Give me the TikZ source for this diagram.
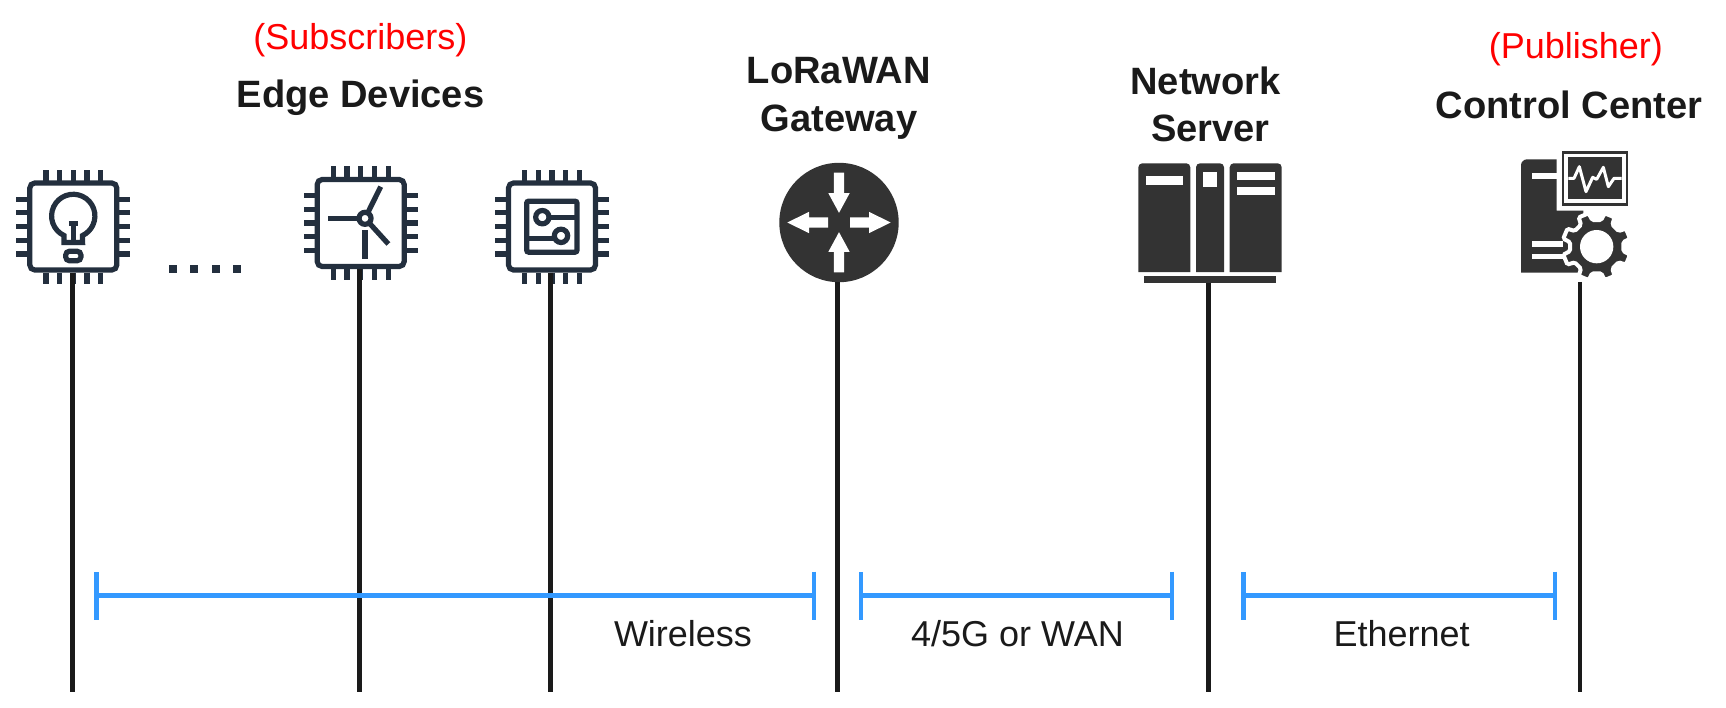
\documentclass[tikz,border=0pt]{standalone}
\usepackage{fontspec}
\setmainfont{Liberation Sans}
\usetikzlibrary{arrows.meta}
\definecolor{chipcolor}{HTML}{232F3E}
\definecolor{darkcolor}{HTML}{333333}
\definecolor{wirecolor}{HTML}{1A1A1A}
\definecolor{spancolor}{HTML}{3399FF}
\tikzstyle{chip}=[draw=chipcolor, line width=5.2pt, rounded corners=5pt, minimum size=87pt, inner sep=0pt]
\tikzstyle{chippin}=[draw=chipcolor, line width=5.2pt]
\tikzstyle{icon}=[draw=chipcolor, line width=5.2pt]
\tikzstyle{dot}=[fill=chipcolor, minimum size=8pt, inner sep=0pt]
\tikzstyle{wire}=[draw=wirecolor, line width=4.4pt]
\tikzstyle{spanline}=[draw=spancolor, line width=4.6pt, {Bar[width=48pt,line width=4.4pt]}-{Bar[width=48pt,line width=4.4pt]}]
\tikzstyle{heading}=[font=\fontsize{38.1}{47.7}\selectfont\bfseries, text=wirecolor, anchor=base, align=center, inner sep=0pt]
\tikzstyle{role}=[font=\fontsize{36}{40}\selectfont, text=red, anchor=base, inner sep=0pt]
\tikzstyle{medium}=[font=\fontsize{36}{40}\selectfont, text=wirecolor, anchor=base, inner sep=0pt]

\begin{document}
\begin{tikzpicture}[x=1pt, y=-1pt]
    \useasboundingbox (0,0) rectangle (1726,707);

    % Edge devices
    \foreach \pos/\name in {
                            {(73.3,226.5)/lamp},
                            {(360.7,223)/turbine},
                            {(552,226.5)/board}}
    {
        \node[chip] (\name) at \pos {};
        \begin{scope}[shift={(\name.center)}]
            \foreach \i in {-2,...,2} {
                \draw[chippin] (\i*13.7,-46) -- (\i*13.7,-57);
                \draw[chippin] (\i*13.7,46) -- (\i*13.7,57);
                \draw[chippin] (-46,\i*13.7) -- (-57,\i*13.7);
                \draw[chippin] (46,\i*13.7) -- (57,\i*13.7);
            }
        \end{scope}
    }

    \begin{scope}[shift={(lamp.center)}, x=0.3333pt, y=-0.3333pt]
        \draw[icon] (-28,48) -- (-28,27) arc[start angle=115.4, end angle=424.6, radius=65] -- (28,48) -- cycle;
        \draw[icon] (0,48) -- (0,-8);
        \draw[icon] (-13,-8) -- (13,-8);
        \draw[icon, rounded corners=4pt] (-23,74) rectangle (23,103);
    \end{scope}

    \begin{scope}[shift={(turbine.center)}, x=0.3333pt, y=-0.3333pt]
        \draw[icon] (13,-14) -- (-97,-14);
        \draw[icon] (13,-14) -- (60,-109);
        \draw[icon] (13,-14) -- (83,63);
        \draw[icon] (13,21) -- (13,109);
        \draw[icon, fill=white] (13,-14) circle[radius=18];
    \end{scope}

    \begin{scope}[shift={(board.center)}, x=0.3333pt, y=-0.3333pt]
        \draw[icon, rounded corners=2pt] (-76,-76) rectangle (75,77);
        \draw[icon] (-29,-28) circle[radius=20];
        \draw[icon] (27,28) circle[radius=20];
        \draw[icon] (-9,-28) -- (75,-28);
        \draw[icon] (-76,35) -- (8,35);
    \end{scope}

    \foreach \x in {173,194,216,237}
        \node[dot] (dot\x) at (\x,269) {};

    % Gateway
    \node[circle, fill=darkcolor, minimum size=119.4pt, inner sep=0pt] (gateway) at (839,222.5) {};
    \begin{scope}[shift={(gateway.center)}, x=0.3333pt, y=-0.3333pt]
        \foreach \rot in {0,180}
            \fill[white, rotate=\rot] (33,-15.5) -- (90,-15.5) -- (90,-32) -- (155,0) -- (90,32) -- (90,15.5) -- (33,15.5) -- cycle;
        \foreach \rot in {90,270}
            \fill[white, rotate=\rot] (150,-15.5) -- (88,-15.5) -- (88,-32) -- (29,0) -- (88,32) -- (88,15.5) -- (150,15.5) -- cycle;
    \end{scope}

    % Network server
    \node[minimum width=143.4pt, minimum height=119.4pt, inner sep=0pt] (server) at (1210,223) {};
    \foreach \xa/\xb in {1138.3/1190.3, 1196/1224, 1229.7/1281.7}
        \fill[darkcolor] (\xa,272) [rounded corners=4pt] -- (\xa,163.3) -- (\xb,163.3) [sharp corners] -- (\xb,272) -- cycle;
    \fill[white] (1145.7,176) rectangle (1183,184.7);
    \fill[white] (1203.3,171.7) rectangle (1216.7,186.7);
    \fill[white] (1237,171.7) rectangle (1274.7,180.3);
    \fill[white] (1237,186.7) rectangle (1274.7,195.3);
    \fill[darkcolor] (1144,276.3) rectangle (1276,282.7);

    % Control center
    \node[minimum width=108pt, minimum height=130pt, inner sep=0pt] (control) at (1575,216.7) {};
    \begin{scope}[shift={(1500,140)}, x=0.3333pt, y=-0.3333pt]
        \fill[darkcolor] (63,398) [rounded corners=6pt] -- (63,58) [sharp corners] -- (170,58) -- (170,212) -- (250,212) -- (250,398) -- cycle;
        \fill[white] (97,100) rectangle (170,116);
        \fill[white] (97,304) rectangle (190,320);
        \fill[white] (97,342) rectangle (190,358);
        \draw[darkcolor, line width=2.5pt, fill=white] (189,37) rectangle (381,193);
        \fill[darkcolor] (205,52) rectangle (365,178);
        \draw[white, line width=3pt, line join=round] (205,115) -- (222,115) -- (238,80) -- (258,155) -- (278,112) -- (290,118) -- (310,82) -- (325,140) -- (342,115) -- (365,115);
        \begin{scope}[shift={(290,320)}]
            \path[fill=darkcolor, draw=white, line width=4pt, rounded corners=1.5pt] (9.5:81)
                \foreach \a in {22.5,67.5,...,337.5} { -- (\a-13:81) -- (\a-9:103) -- (\a+9:103) -- (\a+13:81) } -- cycle;
            \fill[white] (0,0) circle[radius=50];
        \end{scope}
    \end{scope}

    % Free ends of the vertical lines and of the spans
    \foreach \pos/\name in {
                            {(72.4,691.7)/lampend},
                            {(359.3,691.7)/turbineend},
                            {(550.4,691.7)/boardend},
                            {(837.5,691.7)/gatewayend},
                            {(1208.6,691.7)/serverend},
                            {(1579.7,691.7)/controlend},
                            {(94.3,595.7)/wirelessa},
                            {(816.2,595.7)/wirelessb},
                            {(858.6,595.7)/wana},
                            {(1174.2,595.7)/wanb},
                            {(1241.3,595.7)/etherneta},
                            {(1557.2,595.7)/ethernetb}}
        \node[coordinate] (\name) at \pos {};

    % Connect devices with lines
    \foreach \name in {lamp,turbine,board,gateway,server,control}
        \draw[wire] (\name end |- \name.south) -- (\name end);

    \draw[spanline] (wirelessa) -- (wirelessb);
    \draw[spanline] (wana) -- (wanb);
    \draw[spanline] (etherneta) -- (ethernetb);

    % Labels
    \node[role] (subscribers) at (360.4,49.3) {(Subscribers)};
    \node[heading] (edgedevices) at (360.5,107.7) {Edge Devices};
    \node[heading] (gatewaytext) at (838.9,131) {LoRaWAN\\Gateway};
    \node[heading] (servertext) at (1205.5,141.7) {Network\\\hspace*{10pt}Server};
    \node[role] (publisher) at (1575.8,58.3) {(Publisher)};
    \node[heading] (controltext) at (1569,118.3) {Control Center};
    \node[medium] (wirelesstext) at (683,646.7) {Wireless};
    \node[medium] (wantext) at (1017.4,646.7) {4/5G or WAN};
    \node[medium] (ethernettext) at (1401.6,646.7) {Ethernet};

\end{tikzpicture}
\end{document}
